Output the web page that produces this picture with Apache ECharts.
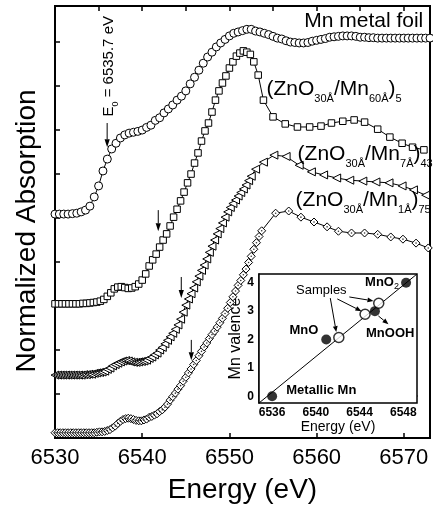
<!DOCTYPE html>
<html>
<head>
<meta charset="utf-8">
<script src="https://cdn.jsdelivr.net/npm/echarts@6/dist/echarts.min.js"></script>
<style>
  html, body { margin: 0; padding: 0; background: #fff; }
  #chart { width: 433px; height: 510px; }
</style>
</head>
<body>
<div id="chart"></div>
<script>
// ---- Mn K-edge XANES spectra (energy in eV, normalized absorption, stacked) ----

// Mn metal foil, 0.5 eV steps
const foilE = [
  6530.0, 6530.5, 6531.0, 6531.5, 6532.0, 6532.5, 6533.0, 6533.5, 6534.0, 6534.5,
  6535.0, 6535.5, 6536.0, 6536.5, 6537.0, 6537.5, 6538.0, 6538.5, 6539.0, 6539.5,
  6540.0, 6540.5, 6541.0, 6541.5, 6542.0, 6542.5, 6543.0, 6543.5, 6544.0, 6544.5,
  6545.0, 6545.5, 6546.0, 6546.5, 6547.0, 6547.5, 6548.0, 6548.5, 6549.0, 6549.5,
  6550.0, 6550.5, 6551.0, 6551.5, 6552.0, 6552.5, 6553.0, 6553.5, 6554.0, 6554.5,
  6555.0, 6555.5, 6556.0, 6556.5, 6557.0, 6557.5, 6558.0, 6558.5, 6559.0, 6559.5,
  6560.0, 6560.5, 6561.0, 6561.5, 6562.0, 6562.5, 6563.0, 6563.5, 6564.0, 6564.5,
  6565.0, 6565.5, 6566.0, 6566.5, 6567.0, 6567.5, 6568.0, 6568.5, 6569.0, 6569.5,
  6570.0, 6570.5, 6571.0, 6571.5, 6572.0, 6572.5, 6573.0
];
const foilMu = [
  5.09, 5.09, 5.09, 5.09, 5.10, 5.11, 5.14, 5.18, 5.27, 5.48,
  5.73, 6.07, 6.34, 6.57, 6.70, 6.82, 6.89, 6.93, 6.95, 6.97,
  7.00, 7.06, 7.11, 7.22, 7.28, 7.39, 7.48, 7.57, 7.68, 7.77,
  7.89, 8.05, 8.20, 8.36, 8.52, 8.66, 8.77, 8.89, 8.98, 9.06,
  9.14, 9.20, 9.23, 9.26, 9.29, 9.29, 9.25, 9.23, 9.20, 9.17,
  9.13, 9.09, 9.07, 9.03, 9.00, 8.99, 8.98, 8.98, 8.99, 9.02,
  9.04, 9.06, 9.08, 9.11, 9.12, 9.13, 9.14, 9.14, 9.14, 9.13,
  9.11, 9.11, 9.10, 9.10, 9.09, 9.09, 9.09, 9.09, 9.09, 9.09,
  9.09, 9.09, 9.09, 9.09, 9.09, 9.09, 9.09
];

// (ZnO30Å/Mn60Å)5 multilayer
const sqE = [
  6530.0, 6530.4, 6530.8, 6531.2, 6531.6, 6532.0, 6532.4, 6532.8, 6533.2, 6533.6,
  6534.0, 6534.4, 6534.8, 6535.2, 6535.6, 6536.0, 6536.4, 6536.8, 6537.2, 6537.6,
  6538.0, 6538.4, 6538.8, 6539.2, 6539.6, 6540.0, 6540.4, 6540.8, 6541.2, 6541.6,
  6542.0, 6542.4, 6542.8, 6543.2, 6543.6, 6544.0, 6544.4, 6544.8, 6545.2, 6545.6,
  6546.0, 6546.4, 6546.8, 6547.2, 6547.6, 6548.0, 6548.4, 6548.8, 6549.2, 6549.6,
  6550.0, 6550.4, 6550.8, 6551.2, 6551.6, 6552.0, 6552.4,
  6552.8, 6553.3, 6553.9, 6555.0, 6556.4, 6557.8, 6559.2, 6560.5, 6561.7, 6563.0,
  6564.3, 6565.5, 6567.0, 6568.4, 6569.8, 6571.0, 6572.3
];
const sqMu = [
  3.05, 3.05, 3.05, 3.05, 3.05, 3.05, 3.05, 3.05, 3.06, 3.06,
  3.07, 3.08, 3.09, 3.11, 3.15, 3.22, 3.30, 3.39, 3.43, 3.44,
  3.42, 3.40, 3.41, 3.44, 3.50, 3.59, 3.73, 3.91, 4.05, 4.18,
  4.34, 4.50, 4.64, 4.82, 5.02, 5.20, 5.39, 5.59, 5.80, 6.00,
  6.25, 6.48, 6.75, 6.98, 7.16, 7.41, 7.68, 7.89, 8.07, 8.23,
  8.41, 8.55, 8.68, 8.75, 8.80, 8.77, 8.72,
  8.55, 8.25, 7.68, 7.30, 7.14, 7.07, 7.07, 7.09, 7.16, 7.20,
  7.23, 7.18, 7.02, 6.84, 6.70, 6.61, 6.55
];

// (ZnO30Å/Mn7Å)43 multilayer
const triE = [
  6530.0, 6530.3, 6530.6, 6530.9, 6531.2, 6531.5, 6531.8, 6532.1, 6532.4, 6532.7,
  6533.0, 6533.3, 6533.6, 6533.9, 6534.2, 6534.5, 6534.8, 6535.1, 6535.4, 6535.7,
  6536.0, 6536.3, 6536.6, 6536.9, 6537.2, 6537.5, 6537.8, 6538.1, 6538.4, 6538.7,
  6539.0, 6539.3, 6539.6, 6539.9, 6540.2, 6540.5, 6540.8, 6541.1, 6541.4, 6541.7,
  6542.0, 6542.3, 6542.6, 6542.9, 6543.2, 6543.5, 6543.8, 6544.1, 6544.4, 6544.7,
  6545.0, 6545.3, 6545.6, 6545.9, 6546.2, 6546.5, 6546.8, 6547.1, 6547.4, 6547.7,
  6548.0, 6548.3, 6548.6, 6548.9, 6549.2, 6549.5, 6549.8, 6550.1, 6550.4, 6550.7,
  6551.0, 6551.3, 6551.6, 6551.9, 6552.2, 6552.5,
  6553.0, 6553.9, 6555.1, 6556.5, 6558.0, 6559.4, 6560.8, 6562.3, 6563.8, 6565.3,
  6566.8, 6568.3, 6569.8, 6571.1, 6572.5
];
const triMu = [
  1.43, 1.43, 1.43, 1.43, 1.43, 1.43, 1.43, 1.43, 1.43, 1.43,
  1.43, 1.44, 1.44, 1.45, 1.45, 1.47, 1.48, 1.49, 1.50, 1.52,
  1.56, 1.59, 1.64, 1.67, 1.70, 1.73, 1.75, 1.76, 1.75, 1.73,
  1.72, 1.72, 1.73, 1.74, 1.75, 1.77, 1.81, 1.84, 1.89, 1.93,
  2.00, 2.06, 2.14, 2.22, 2.30, 2.38, 2.47, 2.57, 2.70, 2.86,
  3.02, 3.16, 3.28, 3.41, 3.55, 3.68, 3.81, 3.93, 4.07, 4.22,
  4.36, 4.50, 4.64, 4.76, 4.89, 5.02, 5.14, 5.24, 5.33, 5.41,
  5.50, 5.58, 5.66, 5.75, 5.85, 5.95,
  6.11, 6.27, 6.43, 6.40, 6.20, 6.05, 5.98, 5.91, 5.86, 5.84,
  5.82, 5.80, 5.73, 5.64, 5.52
];

// (ZnO30Å/Mn1Å)75 multilayer
const diaE = [
  6530.0, 6530.3, 6530.6, 6530.9, 6531.2, 6531.5, 6531.8, 6532.1, 6532.4, 6532.7,
  6533.0, 6533.3, 6533.6, 6533.9, 6534.2, 6534.5, 6534.8, 6535.1, 6535.4, 6535.7,
  6536.0, 6536.3, 6536.6, 6536.9, 6537.2, 6537.5, 6537.8, 6538.1, 6538.4, 6538.7,
  6539.0, 6539.3, 6539.6, 6539.9, 6540.2, 6540.5, 6540.8, 6541.1, 6541.4, 6541.7,
  6542.0, 6542.3, 6542.6, 6542.9, 6543.2, 6543.5, 6543.8, 6544.1, 6544.4, 6544.7,
  6545.0, 6545.3, 6545.6, 6545.9, 6546.2, 6546.5, 6546.8, 6547.1, 6547.4, 6547.7,
  6548.0, 6548.3, 6548.6, 6548.9, 6549.2, 6549.5, 6549.8, 6550.1, 6550.4, 6550.7,
  6551.0, 6551.3, 6551.6, 6551.9, 6552.2, 6552.5, 6552.8, 6553.1, 6553.4, 6553.7,
  6555.3, 6556.8, 6558.2, 6559.7, 6561.2, 6562.5, 6564.0, 6565.5, 6567.0, 6568.5,
  6569.9, 6571.4, 6572.8
];
const diaMu = [
  0.12, 0.12, 0.12, 0.12, 0.12, 0.12, 0.12, 0.12, 0.12, 0.12,
  0.12, 0.12, 0.12, 0.12, 0.12, 0.12, 0.13, 0.14, 0.14, 0.15,
  0.17, 0.19, 0.23, 0.27, 0.33, 0.38, 0.42, 0.44, 0.45, 0.44,
  0.42, 0.40, 0.39, 0.39, 0.41, 0.43, 0.47, 0.49, 0.52, 0.55,
  0.60, 0.64, 0.70, 0.77, 0.86, 0.94, 1.02, 1.11, 1.19, 1.29,
  1.38, 1.48, 1.57, 1.67, 1.76, 1.87, 1.97, 2.07, 2.16, 2.26,
  2.35, 2.43, 2.52, 2.62, 2.72, 2.83, 2.95, 3.08, 3.21, 3.34,
  3.47, 3.58, 3.71, 3.84, 3.99, 4.13, 4.29, 4.44, 4.58, 4.71,
  5.11, 5.16, 5.02, 4.91, 4.80, 4.70, 4.66, 4.66, 4.63, 4.57,
  4.52, 4.43, 4.32
];

// Edge-energy calibration (inset): reference compounds and samples
const refNames = ['Metallic Mn', 'MnO', 'MnOOH', 'MnO2'];
const refE = [6536.0, 6540.95, 6545.4, 6548.25];
const refValence = [0, 2, 3, 4];
const sampleE = [6542.1, 6544.5, 6545.75];
const sampleValence = [2.07, 2.89, 3.28];
const fitE = [6534.8, 6549.25];
const fitValence = [-0.24, 4.31];

// Axis ticks
const mainTicks = [6530, 6540, 6550, 6560, 6570];
const insetXTicks = [6536, 6540, 6544, 6548];
const insetYTicks = [0, 1, 2, 3, 4];

const FONT = '"Liberation Sans", Arial, Helvetica, sans-serif';
const pairs = (xs, ys) => xs.map((x, i) => [x, ys[i]]);

const chart = echarts.init(document.getElementById('chart'), null, { renderer: 'canvas' });

function spectrum(name, xs, ys, symbol, size, rotate) {
  return {
    type: 'line', name, xAxisIndex: 0, yAxisIndex: 0,
    data: pairs(xs, ys),
    symbol, symbolSize: size, symbolRotate: rotate || 0,
    showSymbol: true, showAllSymbol: true,
    lineStyle: { color: '#000', width: 1 },
    itemStyle: { color: '#fff', borderColor: '#000', borderWidth: 1 },
    silent: true, z: 3
  };
}

chart.setOption({
  animation: false,
  backgroundColor: '#fff',
  grid: [
    { left: 55, right: 2, top: 6, bottom: 72, show: true, borderColor: '#000', borderWidth: 2, backgroundColor: 'transparent' },
    { left: 259, top: 274, width: 158, height: 129, show: true, borderColor: '#000', borderWidth: 1.5, backgroundColor: '#fff', z: 1 }
  ],
  xAxis: [
    {
      type: 'value', gridIndex: 0, position: 'bottom', min: 6530, max: 6573, interval: 10,
      axisLine: { lineStyle: { color: '#000', width: 2 } },
      axisTick: { inside: true, length: 5, lineStyle: { color: '#000', width: 1.5 } },
      axisLabel: {
        color: '#000', fontSize: 22, fontFamily: FONT, margin: 9,
        formatter: v => (mainTicks.indexOf(v) >= 0 ? String(v) : '')
      },
      splitLine: { show: false },
      name: 'Energy (eV)', nameLocation: 'middle', nameGap: 38,
      nameTextStyle: { color: '#000', fontSize: 28, fontFamily: FONT }
    },
    {
      type: 'value', gridIndex: 0, position: 'top', min: 6530, max: 6573, interval: 5,
      axisLine: { show: false },
      axisTick: { inside: true, length: 5, lineStyle: { color: '#000', width: 1.5 } },
      axisLabel: { show: false }, splitLine: { show: false }
    },
    {
      type: 'value', gridIndex: 1, min: 6534.8, max: 6549.25,
      axisLine: { lineStyle: { color: '#000', width: 1.5 } },
      axisTick: { inside: true, length: 4, customValues: insetXTicks, lineStyle: { color: '#000', width: 1 } },
      axisLabel: {
        customValues: insetXTicks, color: '#000', fontSize: 12, fontWeight: 'bold', fontFamily: FONT, margin: 4,
        formatter: v => String(v)
      },
      splitLine: { show: false },
      name: 'Energy (eV)', nameLocation: 'middle', nameGap: 16,
      nameTextStyle: { color: '#000', fontSize: 14, fontFamily: FONT }
    }
  ],
  yAxis: [
    {
      type: 'value', gridIndex: 0, min: 0, max: 9.82, interval: 1,
      axisLine: { lineStyle: { color: '#000', width: 2 } },
      axisTick: { inside: true, length: 5, lineStyle: { color: '#000', width: 1.5 } },
      axisLabel: { show: false }, splitLine: { show: false },
      name: 'Normalized Absorption', nameLocation: 'middle', nameGap: 14,
      nameTextStyle: { color: '#000', fontSize: 28, fontFamily: FONT, padding: [0, 18, 0, 0] }
    },
    {
      type: 'value', gridIndex: 1, min: -0.24, max: 4.31,
      axisLine: { lineStyle: { color: '#000', width: 1.5 } },
      axisTick: { inside: true, length: 4, customValues: insetYTicks, lineStyle: { color: '#000', width: 1 } },
      axisLabel: {
        customValues: insetYTicks, color: '#000', fontSize: 12, fontWeight: 'bold', fontFamily: FONT, margin: 5,
        formatter: v => String(v)
      },
      splitLine: { show: false },
      name: 'Mn valence', nameLocation: 'middle', nameGap: 12,
      nameTextStyle: { color: '#000', fontSize: 16, fontFamily: FONT }
    }
  ],
  series: [
    spectrum('Mn metal foil', foilE, foilMu, 'circle', 8),
    spectrum('(ZnO30Å/Mn60Å)5', sqE, sqMu, 'rect', 6.5),
    spectrum('(ZnO30Å/Mn7Å)43', triE, triMu, 'triangle', 8, 90),
    spectrum('(ZnO30Å/Mn1Å)75', diaE, diaMu, 'diamond', 8),
    {
      type: 'scatter', xAxisIndex: 0, yAxisIndex: 0, data: pairs(diaE, diaMu),
      symbol: 'circle', symbolSize: 1.6, itemStyle: { color: '#000' }, silent: true, z: 4
    },
    {
      type: 'line', name: 'linear fit', xAxisIndex: 2, yAxisIndex: 1,
      data: pairs(fitE, fitValence), symbol: 'none',
      lineStyle: { color: '#000', width: 1 }, silent: true, z: 5
    },
    {
      type: 'scatter', name: 'references', xAxisIndex: 2, yAxisIndex: 1,
      data: pairs(refE, refValence), symbol: 'circle', symbolSize: 10,
      itemStyle: { color: '#000' }, silent: true, z: 6
    },
    {
      type: 'scatter', name: 'samples', xAxisIndex: 2, yAxisIndex: 1,
      data: pairs(sampleE, sampleValence), symbol: 'circle', symbolSize: 10,
      itemStyle: { color: '#fff', borderColor: '#000', borderWidth: 1.5 }, silent: true, z: 6
    }
  ]
});

// ---- annotations, anchored in data coordinates ----
const MAIN = 0, INSET = 5;
const toPx = (si, p) => chart.convertToPixel({ seriesIndex: si }, p);

const subRich = size => ({ s: { fontSize: size, fontFamily: FONT, lineHeight: Math.round(size * 1.1), verticalAlign: 'bottom', fill: '#000' } });

function textEl(si, at, text, opts) {
  const p = toPx(si, at);
  const o = opts || {};
  return {
    type: 'text', x: p[0], y: p[1], rotation: o.rotation || 0, z: o.z || 10, silent: true,
    style: {
      text, fill: '#000', fontFamily: FONT, fontSize: o.size || 21, fontWeight: o.weight || 'normal',
      align: o.align || 'left', verticalAlign: 'middle',
      lineHeight: o.lineHeight || Math.round((o.size || 21) * 1.45),
      rich: subRich(o.sub || 11)
    }
  };
}

function arrowEls(si, from, to, headLen, headHalf) {
  const a = toPx(si, from), b = toPx(si, to);
  const dx = b[0] - a[0], dy = b[1] - a[1];
  const len = Math.sqrt(dx * dx + dy * dy);
  const ux = dx / len, uy = dy / len;
  const bx = b[0] - ux * headLen, by = b[1] - uy * headLen;
  return [
    { type: 'line', z: 10, silent: true, shape: { x1: a[0], y1: a[1], x2: bx, y2: by }, style: { stroke: '#000', lineWidth: 1 } },
    { type: 'polygon', z: 10, silent: true,
      shape: { points: [[b[0], b[1]], [bx - uy * headHalf, by + ux * headHalf], [bx + uy * headHalf, by - ux * headHalf]] },
      style: { fill: '#000' } }
  ];
}

const mainArrows = [
  [[6535.98, 7.16], [6535.98, 6.61]],
  [[6541.84, 5.18], [6541.84, 4.70]],
  [[6544.48, 3.66], [6544.48, 3.18]],
  [[6545.63, 2.23], [6545.63, 1.77]]
];
const insetArrows = [
  [[6541.32, 3.46], [6541.87, 2.26]],
  [[6541.96, 3.43], [6544.17, 3.00]],
  [[6543.06, 3.50], [6545.27, 3.36]],
  [[6545.72, 2.83], [6546.64, 2.54]]
];

const graphics = [
  textEl(MAIN, [6565.4, 9.48], 'Mn metal foil', { align: 'center', size: 21 }),
  textEl(MAIN, [6536.2, 8.45], 'E{s|0} = 6535.7 eV', { align: 'center', size: 15, sub: 9, rotation: Math.PI / 2 }),
  textEl(MAIN, [6554.25, 7.93], '(ZnO{s|30Å}/Mn{s|60Å}){s|5}', { size: 21, sub: 11 }),
  textEl(MAIN, [6557.82, 6.45], '(ZnO{s|30Å}/Mn{s|7Å}){s|43}', { size: 21, sub: 11 }),
  textEl(MAIN, [6557.59, 5.41], '(ZnO{s|30Å}/Mn{s|1Å}){s|75}', { size: 21, sub: 11 }),
  textEl(INSET, [6544.5, 4.03], 'MnO{s|2}', { size: 13, weight: 'bold', sub: 9, z: 5 }),
  textEl(INSET, [6540.5, 3.72], 'Samples', { align: 'center', size: 13 }),
  textEl(INSET, [6538.9, 2.32], 'MnO', { align: 'center', size: 13, weight: 'bold' }),
  textEl(INSET, [6546.8, 2.22], 'MnOOH', { align: 'center', size: 13, weight: 'bold' }),
  textEl(INSET, [6540.5, 0.21], 'Metallic Mn', { align: 'center', size: 13, weight: 'bold' })
];
mainArrows.forEach(a => graphics.push(...arrowEls(MAIN, a[0], a[1], 8, 2.6)));
insetArrows.forEach(a => graphics.push(...arrowEls(INSET, a[0], a[1], 6, 2.4)));

chart.setOption({ graphic: graphics });
</script>
</body>
</html>
